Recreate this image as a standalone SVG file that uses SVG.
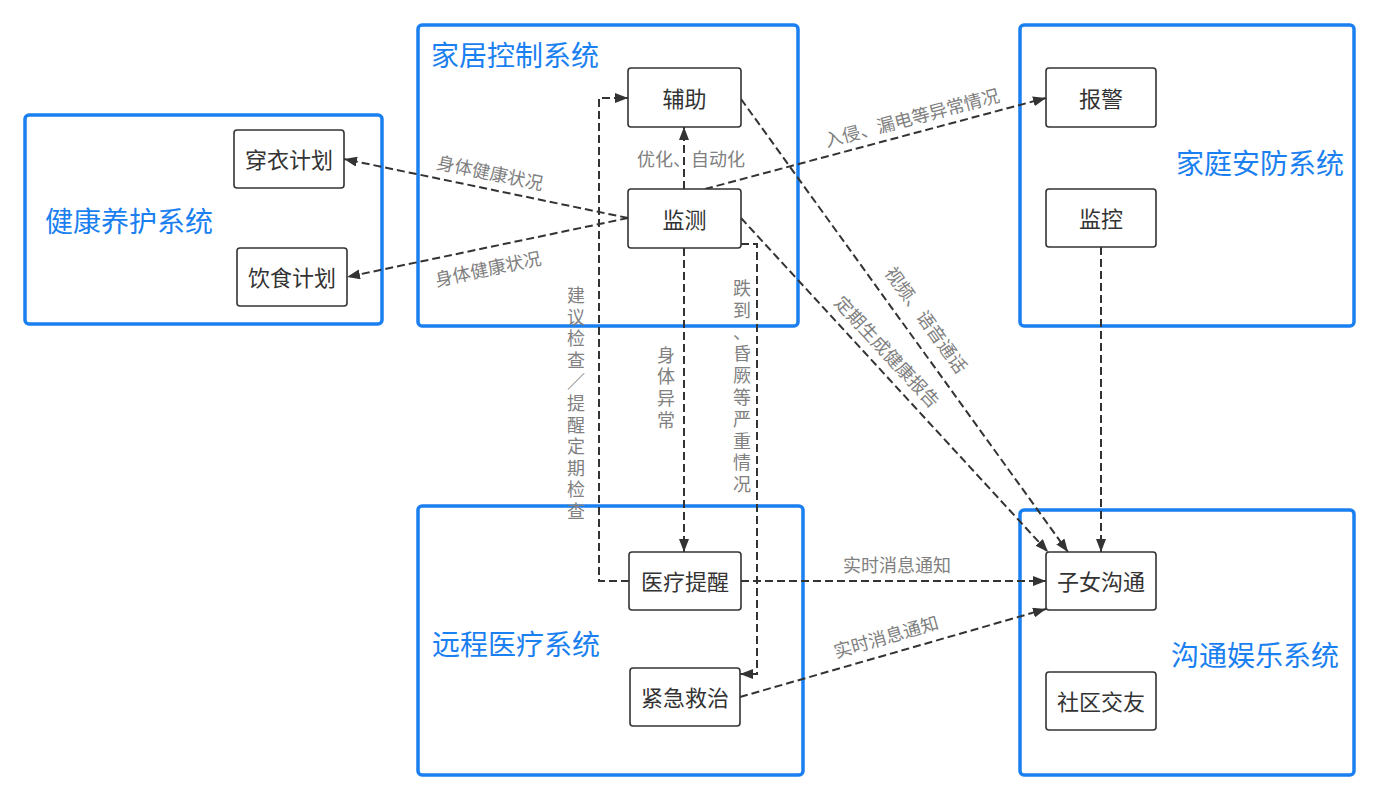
<svg xmlns="http://www.w3.org/2000/svg" width="1379" height="801" viewBox="0 0 1379 801">
<defs>
<marker id="arr" markerUnits="userSpaceOnUse" markerWidth="13" markerHeight="10" refX="13" refY="5" orient="auto"><path d="M0,0 L13,5 L0,10 z" fill="#333"/></marker>
<style>
.box{fill:#fff;stroke:#1a7ff0;stroke-width:3.5}
.title{font-family:"Noto Sans CJK SC","Noto Sans",sans-serif;font-size:28px;fill:#1a7ff0}
.node rect{fill:#fff;stroke:#333;stroke-width:1.6}
.node text{font-family:"Noto Sans CJK SC","Noto Sans",sans-serif;font-size:22px;fill:#333;text-anchor:middle}
.edge{fill:none;stroke:#333;stroke-width:2;stroke-dasharray:8 4;marker-end:url(#arr)}
.lbl{font-family:"Noto Sans CJK SC","Noto Sans",sans-serif;font-size:18px;fill:#808080}
.mid{text-anchor:middle}
</style>
</defs>
<rect width="1379" height="801" fill="#fff"/>
<g id="containers">
<g id="c-health"><rect class="box" x="25" y="115" width="357" height="209" rx="4"/><text class="title" x="45" y="232">健康养护系统</text></g>
<g id="c-home"><rect class="box" x="418" y="25" width="380" height="301" rx="4"/><text class="title" x="431" y="66">家居控制系统</text></g>
<g id="c-security"><rect class="box" x="1020" y="25" width="334" height="301" rx="4"/><text class="title" x="1176" y="174">家庭安防系统</text></g>
<g id="c-medical"><rect class="box" x="418" y="506" width="385" height="269" rx="4"/><text class="title" x="432" y="655">远程医疗系统</text></g>
<g id="c-comm"><rect class="box" x="1020" y="510" width="334" height="265" rx="4"/><text class="title" x="1171" y="666">沟通娱乐系统</text></g>
</g>
<g id="connectors">
<path class="edge" d="M684,189 L684,127"/>
<path class="edge" d="M628,218 L344,159"/>
<path class="edge" d="M628,218 L347,277"/>
<path class="edge" d="M705,189 L1046,98"/>
<path class="edge" d="M741,99 L1068,552"/>
<path class="edge" d="M741,218 L1048,552"/>
<path class="edge" d="M1101,247 L1101,552"/>
<path class="edge" d="M684,248 L684,552"/>
<path class="edge" d="M741,244 L757,244 L757,674 L740,674"/>
<path class="edge" d="M629,581 L599,581 L599,98 L628,98"/>
<path class="edge" d="M741,581 L1046,581"/>
<path class="edge" d="M740,697 L1046,609"/>
<text class="lbl" x="637" y="166">优化、自动化</text>
<text class="lbl mid" x="490" y="179.5" transform="rotate(11.7 490 173)">身体健康状况</text>
<text class="lbl mid" x="488" y="275.5" transform="rotate(-11.8 488 269)">身体健康状况</text>
<text class="lbl mid" x="912" y="124.5" transform="rotate(-14.8 912 118)">入侵、漏电等异常情况</text>
<text class="lbl mid" x="926" y="326.5" transform="rotate(54.3 926 320)">视频、语音通话</text>
<text class="lbl mid" x="887" y="358.5" transform="rotate(47.2 887 352)">定期生成健康报告</text>
<text class="lbl mid" x="897" y="572">实时消息通知</text>
<text class="lbl mid" x="886" y="643.5" transform="rotate(-16 886 637)">实时消息通知</text>
<text class="lbl mid" x="576" y="302"><tspan x="576">建</tspan><tspan x="576" dy="21.6">议</tspan><tspan x="576" dy="21.6">检</tspan><tspan x="576" dy="21.6">查</tspan><tspan x="576" dy="21.6">／</tspan><tspan x="576" dy="21.6">提</tspan><tspan x="576" dy="21.6">醒</tspan><tspan x="576" dy="21.6">定</tspan><tspan x="576" dy="21.6">期</tspan><tspan x="576" dy="21.6">检</tspan><tspan x="576" dy="21.6">查</tspan></text>
<text class="lbl mid" x="666" y="361.5"><tspan x="666">身</tspan><tspan x="666" dy="21.8">体</tspan><tspan x="666" dy="21.8">异</tspan><tspan x="666" dy="21.8">常</tspan></text>
<text class="lbl mid" x="742" y="295"><tspan x="742">跌</tspan><tspan x="742" dy="21.8">到</tspan><tspan x="742" dy="21.8">、</tspan><tspan x="742" dy="21.8">昏</tspan><tspan x="742" dy="21.8">厥</tspan><tspan x="742" dy="21.8">等</tspan><tspan x="742" dy="21.8">严</tspan><tspan x="742" dy="21.8">重</tspan><tspan x="742" dy="21.8">情</tspan><tspan x="742" dy="21.8">况</tspan></text>
</g>
<g id="n-fuzhu" class="node"><rect x="628" y="68" width="113" height="59" rx="3"/><text x="684.5" y="107">辅助</text></g>
<g id="n-jiance" class="node"><rect x="628" y="189" width="113" height="59" rx="3"/><text x="684.5" y="228">监测</text></g>
<g id="n-chuanyi" class="node"><rect x="234" y="130" width="110" height="58" rx="3"/><text x="289" y="168">穿衣计划</text></g>
<g id="n-yinshi" class="node"><rect x="237" y="248" width="110" height="58" rx="3"/><text x="292" y="286">饮食计划</text></g>
<g id="n-baojing" class="node"><rect x="1046" y="68" width="110" height="59" rx="3"/><text x="1101" y="107">报警</text></g>
<g id="n-jiankong" class="node"><rect x="1046" y="189" width="110" height="58" rx="3"/><text x="1101" y="227">监控</text></g>
<g id="n-yiliao" class="node"><rect x="629" y="552" width="112" height="58" rx="3"/><text x="685" y="590">医疗提醒</text></g>
<g id="n-jinji" class="node"><rect x="630" y="668" width="110" height="58" rx="3"/><text x="685" y="706">紧急救治</text></g>
<g id="n-zinv" class="node"><rect x="1046" y="552" width="110" height="58" rx="3"/><text x="1101" y="590">子女沟通</text></g>
<g id="n-shequ" class="node"><rect x="1046" y="672" width="110" height="58" rx="3"/><text x="1101" y="710">社区交友</text></g>
</svg>
